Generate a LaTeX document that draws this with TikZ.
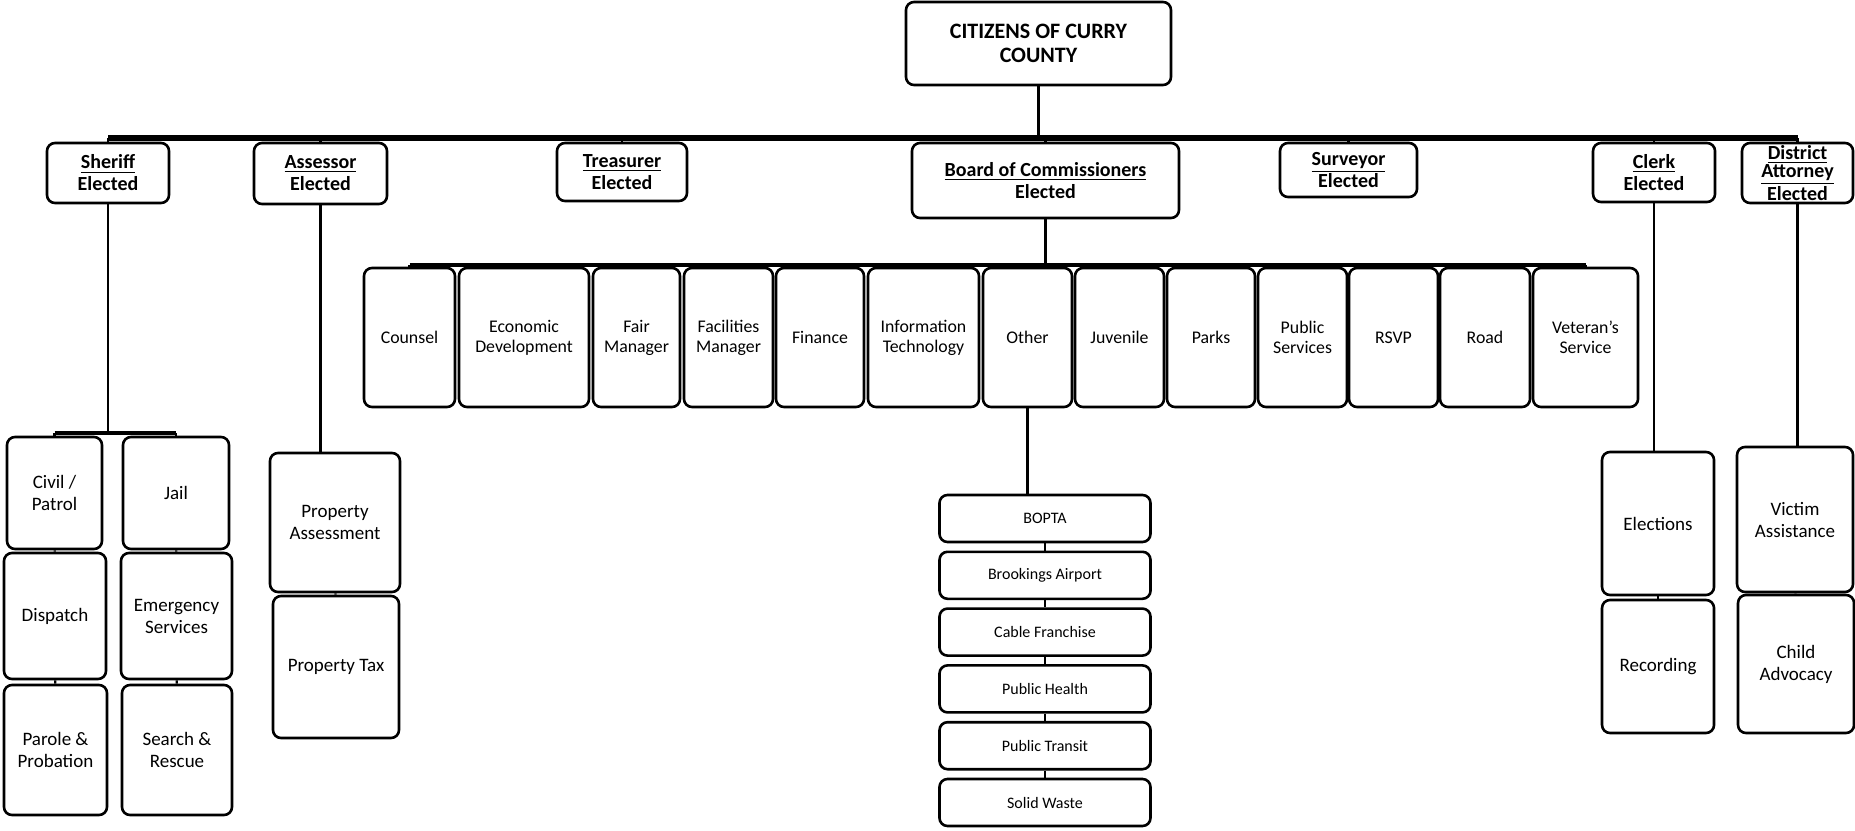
\documentclass[tikz,border=0pt]{standalone}
\usepackage{fontspec}
\setmainfont{Carlito}
\usetikzlibrary{positioning}
\tikzstyle{office} = [rectangle, rounded corners=4pt, draw=black, line width=1.3pt, fill=white, align=center, inner sep=1pt, font=\bfseries\fontsize{10}{11}\selectfont]
\tikzstyle{dept} = [rectangle, rounded corners=4pt, draw=black, line width=1.3pt, fill=white, align=center, inner sep=1pt, minimum height=69.5pt, font=\fontsize{8.9}{10}\selectfont]
\tikzstyle{unit} = [rectangle, rounded corners=4pt, draw=black, line width=1.3pt, fill=white, align=center, inner sep=1pt, font=\fontsize{9.5}{11}\selectfont]
\tikzstyle{program} = [unit, minimum width=105.5pt, minimum height=23.5pt, font=\fontsize{8}{9}\selectfont]
\tikzstyle{trunk} = [line width=2.6pt]
\tikzstyle{bus} = [line width=2pt]
\tikzstyle{branch} = [line width=1.2pt]

\begin{document}
\begin{tikzpicture}[x=0.5pt, y=-0.5pt]
\useasboundingbox (0,0) rectangle (1855,830);

% Top
\node (citizens) [office, minimum width=132.5pt, minimum height=41.5pt, font=\bfseries\fontsize{11}{12}\selectfont] at (1038.5,43.5) {CITIZENS OF CURRY\\COUNTY};

% Elected Offices
\node (sheriff) [office, minimum width=61pt, minimum height=30pt] at (108,173) {\underline{Sheriff}\\Elected};
\node (assessor) [office, minimum width=66.5pt, minimum height=30.5pt] at (320.5,173.5) {\underline{Assessor}\\Elected};
\node (treasurer) [office, minimum width=65pt, minimum height=29pt] at (622,172) {\underline{Treasurer}\\Elected};
\node (board) [office, minimum width=133.5pt, minimum height=37.5pt] at (1045.5,180.5) {\underline{Board of Commissioners}\\Elected};
\node (surveyor) [office, minimum width=68.5pt, minimum height=27pt] at (1348.5,170) {\underline{Surveyor}\\Elected};
\node (clerk) [office, minimum width=61pt, minimum height=29.5pt] at (1654,172.5) {\underline{Clerk}\\Elected};
\node (da) [office, minimum width=55.5pt, minimum height=30pt, inner ysep=0pt, font=\bfseries\fontsize{10}{9}\selectfont] at (1797.5,173) {\underline{District}\\\underline{Attorney}\\Elected};

\coordinate (hub) at (1038.5,138);
\draw [branch] (citizens.south) -- (hub);
\draw [trunk] (hub -| sheriff) -- (hub -| da);
\foreach \n in {sheriff, assessor, treasurer, board, surveyor, clerk, da}
  \draw [branch] (hub -| \n) -- (\n.north);

% Departments
\node (counsel) [dept, minimum width=45.5pt] at (409.5,337.5) {Counsel};
\node (econdev) [dept, minimum width=65pt] at (524,337.5) {Economic\\Development};
\node (fair) [dept, minimum width=43.5pt] at (636.5,337.5) {Fair\\Manager};
\node (facilities) [dept, minimum width=44.5pt] at (728.5,337.5) {Facilities\\Manager};
\node (finance) [dept, minimum width=44pt] at (820,337.5) {Finance};
\node (infotech) [dept, minimum width=55.5pt] at (923.5,337.5) {Information\\Technology};
\node (other) [dept, minimum width=44.5pt] at (1027.5,337.5) {Other};
\node (juvenile) [dept, minimum width=44.5pt] at (1119.5,337.5) {Juvenile};
\node (parks) [dept, minimum width=44pt] at (1211,337.5) {Parks};
\node (pubserv) [dept, minimum width=44.5pt] at (1302.5,337.5) {Public\\Services};
\node (rsvp) [dept, minimum width=44.5pt] at (1393.5,337.5) {RSVP};
\node (road) [dept, minimum width=45pt] at (1485,337.5) {Road};
\node (veteran) [dept, minimum width=52.5pt] at (1585.5,337.5) {Veteran's\\Service};

\coordinate (deptbar) at (1045.5,265);
\draw [branch] (board.south) -- (deptbar);
\draw [bus] (deptbar -| counsel) -- (deptbar -| veteran);
\foreach \n in {counsel, econdev, fair, facilities, finance, infotech, other, juvenile, parks, pubserv, rsvp, road, veteran}
  \draw [branch] (deptbar -| \n) -- (\n.north);

% Other programs
\node (bopta) [program] at (1045,518.5) {BOPTA};
\node (brookings) [program, below=3.6pt of bopta] {Brookings Airport};
\node (cable) [program, below=3.6pt of brookings] {Cable Franchise};
\node (health) [program, below=3.6pt of cable] {Public Health};
\node (transit) [program, below=3.6pt of health] {Public Transit};
\node (waste) [program, below=3.6pt of transit] {Solid Waste};

\draw [branch] (other.south) -- (other.south |- bopta.north);
\foreach \a/\b in {bopta/brookings, brookings/cable, cable/health, health/transit, transit/waste}
  \draw [branch] (\a) -- (\b);

% Sheriff units
\node (civil) [unit, minimum width=47.5pt, minimum height=56pt] at (54.5,493) {Civil /\\Patrol};
\node (jail) [unit, minimum width=53pt, minimum height=56pt] at (176,493) {Jail};
\node (dispatch) [unit, minimum width=51pt, minimum height=63pt] at (55,616) {Dispatch};
\node (emergency) [unit, minimum width=55.5pt, minimum height=63pt] at (176.5,616) {Emergency\\Services};
\node (parole) [unit, minimum width=51.5pt, minimum height=65pt] at (55.5,750) {Parole \&\\Probation};
\node (search) [unit, minimum width=55pt, minimum height=65pt] at (177,750) {Search \&\\Rescue};

\coordinate (sheriffbar) at (108,433);
\draw [branch] (sheriff.south) -- (sheriffbar);
\draw [bus] (sheriffbar -| civil) -- (sheriffbar -| jail);
\draw [branch] (sheriffbar -| civil) -- (civil.north);
\draw [branch] (sheriffbar -| jail) -- (jail.north);
\foreach \a/\b in {civil/dispatch, dispatch/parole, jail/emergency, emergency/search}
  \draw [branch] (\a) -- (\b);

% Assessor units
\node (propassess) [unit, minimum width=65pt, minimum height=69.5pt] at (335,522.5) {Property\\Assessment};
\node (proptax) [unit, minimum width=63pt, minimum height=71pt] at (336,667) {Property Tax};
\draw [branch] (assessor.south) -- (assessor.south |- propassess.north);
\draw [branch] (propassess) -- (proptax);

% Clerk units
\node (elections) [unit, minimum width=56pt, minimum height=71.5pt] at (1658,523.5) {Elections};
\node (recording) [unit, minimum width=56pt, minimum height=66.5pt] at (1658,666.5) {Recording};
\draw [branch] (clerk.south) -- (clerk.south |- elections.north);
\draw [branch] (elections) -- (recording);

% District Attorney units
\node (victim) [unit, minimum width=58pt, minimum height=72.5pt] at (1795,519.5) {Victim\\Assistance};
\node (child) [unit, minimum width=58pt, minimum height=69pt] at (1796,664) {Child\\Advocacy};
\draw [branch] (da.south) -- (da.south |- victim.north);
\draw [branch] (victim) -- (child);

\end{tikzpicture}
\end{document}
